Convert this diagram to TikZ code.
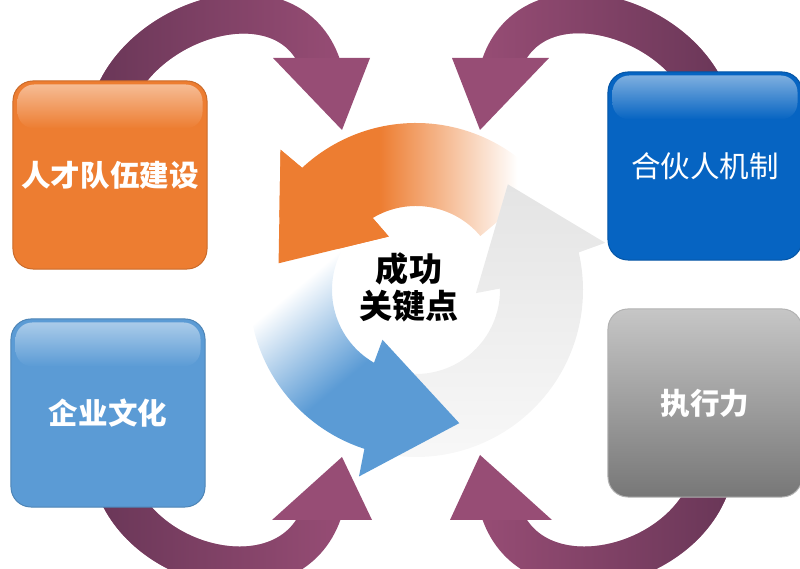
\documentclass[tikz,border=0pt]{standalone}
\usepackage{fontspec}
\setmainfont{Liberation Sans}
\newfontfamily\cjk{Noto Sans CJK SC}
\usetikzlibrary{calc,backgrounds,fadings}
\definecolor{keyorange}{HTML}{ED7D31}
\definecolor{keyblue}{HTML}{5B9BD5}
\definecolor{keynavy}{HTML}{0664C2}
\definecolor{keygrayhi}{HTML}{C6C6C6}
\definecolor{keygraylo}{HTML}{777777}
\definecolor{ringgray}{HTML}{E4E4E4}
\definecolor{ringpale}{HTML}{F8F8F8}
\definecolor{plumlight}{HTML}{974D75}
\definecolor{plumdark}{HTML}{6A3758}
\pgfdeclarehorizontalshading{orangefade}{100bp}{color(0bp)=(keyorange); color(44bp)=(keyorange); color(70bp)=(white); color(100bp)=(white)}
\pgfdeclareverticalshading{bluefade}{100bp}{color(0bp)=(keyblue); color(45bp)=(keyblue); color(66bp)=(white); color(100bp)=(white)}

\begin{document}
\begin{tikzpicture}[
  x=0.025cm, y=0.025cm,
  font=\cjk,
  keybox/.style={
    rounded corners=0.5cm,
    line width=0.7pt,
    minimum width=4.85cm,
    minimum height=4.7cm,
    text=white,
    font=\cjk\bfseries\fontsize{21}{25}\selectfont
  },
  gloss/.style={rounded corners=0.42cm, top color=#1!52!white, bottom color=#1},
  plumbody/.style={draw=plumlight, line width=1cm, postaction={draw=plumdark, line width=1cm, path fading=#1}},
  plumhead/.style={fill=plumlight}
]
  \useasboundingbox (0,0) rectangle (800,569);

  % Four corner boxes
  \node[keybox, fill=keyorange, draw=keyorange!85!black] (talent) at (110,394) {人才队伍建设};
  \shade[gloss=keyorange] ($(talent.north west)+(5,-4)$) rectangle ($(talent.north east)+(-5,-48)$);

  \node[keybox, fill=keyblue, draw=keyblue!85!black] (culture) at (108,156) {企业文化};
  \shade[gloss=keyblue] ($(culture.north west)+(5,-4)$) rectangle ($(culture.north east)+(-5,-48)$);

  \node[keybox, fill=keynavy, draw=keynavy!85!black, font=\cjk\fontsize{21}{25}\selectfont] (partner) at (705,403) {合伙人机制};
  \shade[gloss=keynavy] ($(partner.north west)+(5,-4)$) rectangle ($(partner.north east)+(-5,-48)$);

  \node[keybox, top color=keygrayhi, bottom color=keygraylo, draw=keygrayhi!90!black] (execution) at (705,166) {执行力};

  % Where the plum arrows meet the ring
  \coordinate (inTL) at (342,439);  \coordinate (baseTL) at (321,511);
  \coordinate (inTR) at (480,439);  \coordinate (baseTR) at (501,511);
  \coordinate (inBL) at (342,112);  \coordinate (baseBL) at (322,49);
  \coordinate (inBR) at (480,114);  \coordinate (baseBR) at (501,49);

  \begin{scope}[on background layer]
    \draw[plumbody=east] ($(talent.north)+(3,-20)$) .. controls +(32,86) and +(-31,92) .. ($(baseTL)+(0,-8)$);
    \draw[plumbody=west] ($(partner.north)+(4,-28)$) .. controls +(-32,86) and +(31,92) .. ($(baseTR)+(0,-8)$);
    \draw[plumbody=east] ($(culture.south)+(8,21)$) .. controls +(32,-85) and +(-31,-90) .. ($(baseBL)+(0,8)$);
    \draw[plumbody=west] ($(execution.south)+(4,11)$) .. controls +(-32,-85) and +(31,-90) .. ($(baseBR)+(0,8)$);
    \fill[plumhead] ($(baseTL)+(-48,0)$) -- (inTL) -- ($(baseTL)+(49,0)$) -- cycle;
    \fill[plumhead] ($(baseTR)+(-49,0)$) -- (inTR) -- ($(baseTR)+(48,0)$) -- cycle;
    \fill[plumhead] ($(baseBL)+(-50,0)$) -- (inBL) -- ($(baseBL)+(50,0)$) -- cycle;
    \fill[plumhead] ($(baseBR)+(-51,0)$) -- (inBR) -- ($(baseBR)+(51,0)$) -- cycle;
  \end{scope}

  % Central cycle of three arrows
  \begin{scope}[shift={(416,279)}]
    \shade[shading=orangefade] (40:167) arc[start angle=40, end angle=133, radius=167] -- (134:195) -- (169:140) -- (117:60) -- (121:84) arc[start angle=121, end angle=40, radius=84] -- cycle;
    \shade[top color=ringgray, bottom color=ringpale] (-98:167) arc[start angle=-98, end angle=13, radius=167] -- (14:195) -- (49:140) -- (-3:60) -- (1:84) arc[start angle=1, end angle=-98, radius=84] -- cycle;
    \shade[shading=bluefade, shading angle=40] (152:167) arc[start angle=152, end angle=252, radius=167] -- (253:195) -- (288:140) -- (236:60) -- (240:84) arc[start angle=240, end angle=152, radius=84] -- cycle;
    % orange head back on top of the blue tail
    \fill[keyorange] (133:167) -- (134:195) -- (169:140) -- (117:60) -- (121:84) -- cycle;
  \end{scope}

  \node[font=\cjk\bfseries\fontsize{23.5}{26.3}\selectfont, align=center] (core) at (409,282) {成功\\关键点};

\end{tikzpicture}
\end{document}
